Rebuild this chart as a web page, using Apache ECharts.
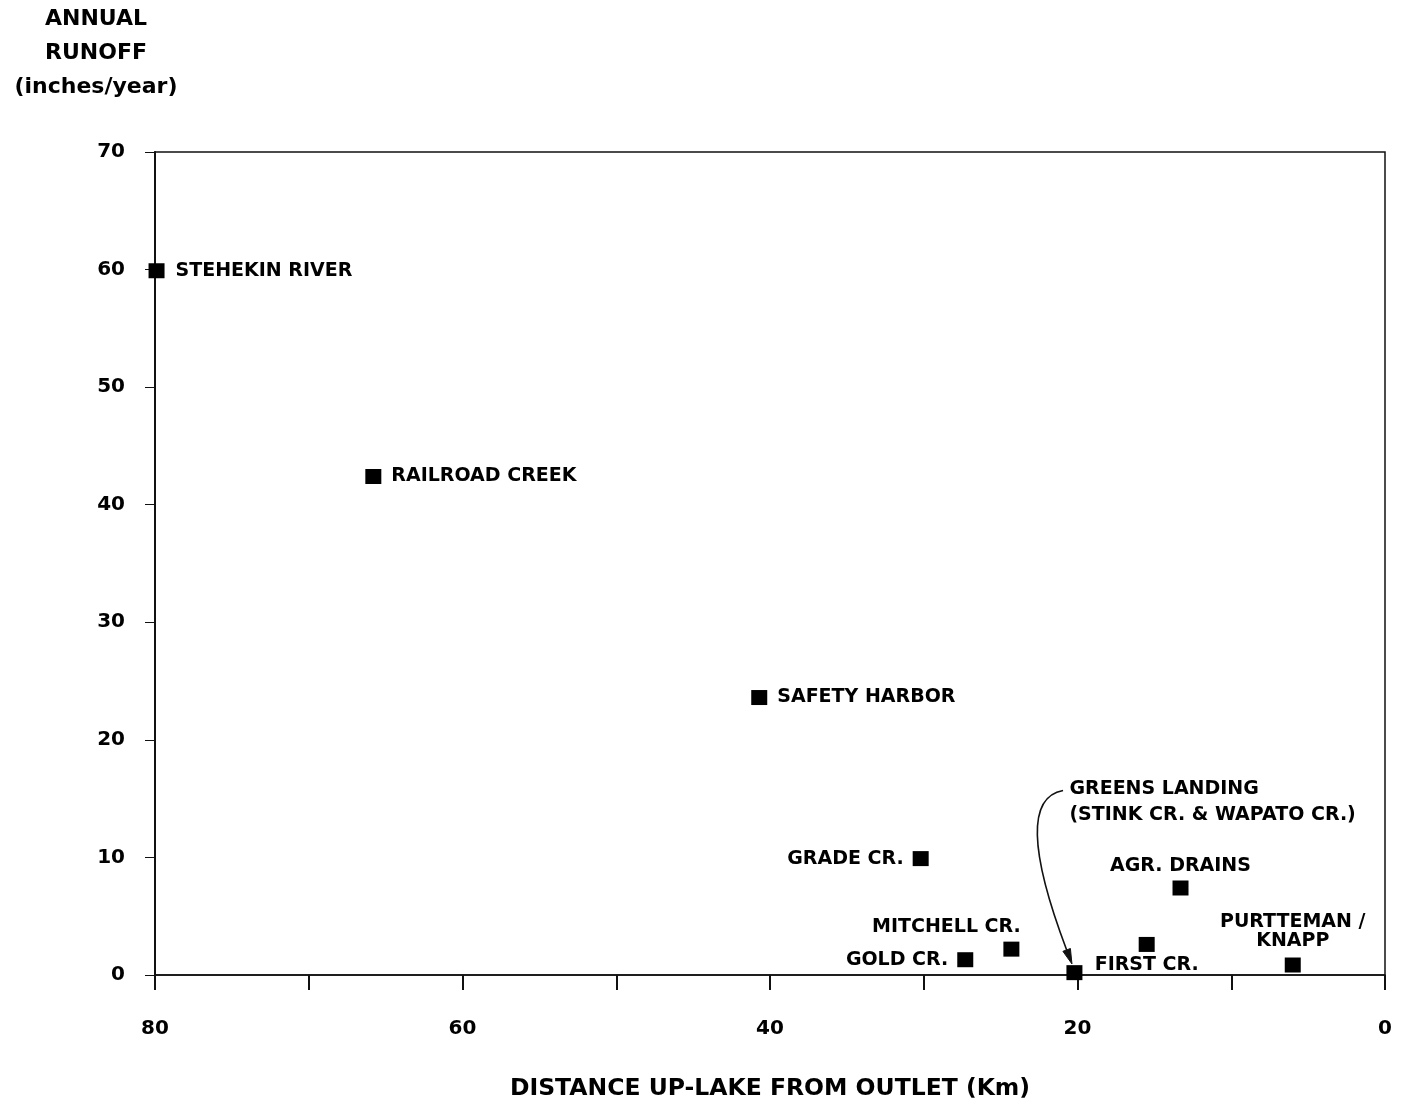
<!DOCTYPE html>
<html>
<head>
<meta charset="utf-8">
<script src="https://cdn.jsdelivr.net/npm/echarts@6/dist/echarts.min.js"></script>
<style>html,body{margin:0;padding:0;background:#fff;overflow:hidden;}#c{width:1403px;height:1106px;}</style>
</head>
<body>
<div id="c"></div>
<script>
// Data
var names = ['STEHEKIN RIVER', 'RAILROAD CREEK', 'SAFETY HARBOR', 'GRADE CR.', 'GOLD CR.', 'MITCHELL CR.', 'GREENS LANDING\n(STINK CR. & WAPATO CR.)', 'FIRST CR.', 'AGR. DRAINS', 'PURTTEMAN /\nKNAPP'];
var distanceKm = [79.9, 65.8, 40.7, 30.2, 27.3, 24.3, 20.2, 15.5, 13.3, 6.0];
var runoff = [59.9, 42.4, 23.6, 9.9, 1.3, 2.2, 0.2, 2.6, 7.4, 0.85];
var xTickLabels = ['0', '20', '40', '60', '80'];
// annotation arrow for Greens Landing: start, bend control, tip (km, inches/year)
var arrowStart = [20.94, 15.7];
var arrowBend = [24.4, 14.9];
var arrowTip = [20.36, 0.94];

// label placement (styling only)
var labelStyles = [
  {position: 'right', distance: 11},
  {position: 'right', distance: 10},
  {position: 'right', distance: 10},
  {position: 'left', distance: 9},
  {position: 'left', distance: 9},
  {position: 'top', distance: 5, offset: [-65, 0]},
  {position: [3, -189], align: 'left', verticalAlign: 'top', lineHeight: 26},
  {position: 'bottom', distance: 4},
  {position: 'top', distance: 5},
  {position: 'top', distance: 7, align: 'center', lineHeight: 19}
];

var FONT = '"DejaVu Sans", Verdana, sans-serif';
var pts = names.map(function (n, i) {
  var ls = labelStyles[i];
  var lab = {show: true, formatter: n, color: '#000', fontFamily: FONT, fontWeight: 'bold', fontSize: 19, opacity: 1};
  for (var k in ls) lab[k] = ls[k];
  return {name: n, value: [distanceKm[i], runoff[i]], label: lab};
});

function renderArrow(params, api) {
  var p0 = api.coord([api.value(0), api.value(1)]);
  var c = api.coord([api.value(2), api.value(3)]);
  var p2 = api.coord([api.value(4), api.value(5)]);
  var dx = p2[0] - c[0], dy = p2[1] - c[1];
  var len = Math.sqrt(dx * dx + dy * dy);
  dx /= len; dy /= len;
  var headLen = 15, headHalf = 4;
  var base = [p2[0] - dx * headLen, p2[1] - dy * headLen];
  return {
    type: 'group',
    children: [
      {
        type: 'bezierCurve',
        shape: {x1: p0[0], y1: p0[1], cpx1: c[0], cpy1: c[1], x2: base[0], y2: base[1]},
        style: {stroke: '#111', lineWidth: 1.6, fill: null}
      },
      {
        type: 'polygon',
        shape: {points: [p2, [base[0] - dy * headHalf, base[1] + dx * headHalf], [base[0] + dy * headHalf, base[1] - dx * headHalf]]},
        style: {fill: '#111', stroke: '#111', lineWidth: 1}
      }
    ]
  };
}

var chart = echarts.init(document.getElementById('c'), null, {renderer: 'canvas'});
chart.setOption({
  backgroundColor: '#fff',
  animation: false,
  title: {
    text: 'ANNUAL\nRUNOFF\n(inches/year)',
    left: 91, top: -3, textAlign: 'center',
    textStyle: {fontFamily: FONT, fontWeight: 'bold', fontSize: 22, color: '#000', lineHeight: 34}
  },
  grid: {left: 155, right: 18, top: 152, bottom: 131, show: true, borderColor: '#111', borderWidth: 1.5, containLabel: false, outerBoundsMode: 'none'},
  xAxis: {
    type: 'value', inverse: true, min: 0, max: 80, interval: 10,
    name: 'DISTANCE UP-LAKE FROM OUTLET (Km)', nameLocation: 'middle', nameGap: 102,
    nameTextStyle: {fontFamily: FONT, fontWeight: 'bold', fontSize: 23.5, color: '#000'},
    axisLine: {onZero: false, lineStyle: {color: '#111', width: 1.5}},
    axisTick: {show: true, inside: false, length: 15, lineStyle: {color: '#111', width: 2}},
    axisLabel: {
      margin: 44, fontFamily: FONT, fontWeight: 'bold', fontSize: 20, color: '#000',
      formatter: function (v) { var s = String(v); return xTickLabels.indexOf(s) >= 0 ? s : ''; }
    },
    splitLine: {show: false}
  },
  yAxis: {
    type: 'value', min: 0, max: 70, interval: 10,
    axisLine: {show: true, onZero: false, lineStyle: {color: '#111', width: 2}},
    axisTick: {show: true, inside: false, length: 10, lineStyle: {color: '#111', width: 1}},
    axisLabel: {margin: 30, fontFamily: FONT, fontWeight: 'bold', fontSize: 20, color: '#000'},
    splitLine: {show: false}
  },
  series: [
    {
      type: 'scatter',
      symbol: 'rect',
      symbolSize: [16, 15],
      itemStyle: {color: '#000', opacity: 1},
      data: pts,
      z: 3
    },
    {
      type: 'custom',
      renderItem: renderArrow,
      encode: {x: [0, 2, 4], y: [1, 3, 5]},
      data: [[arrowStart[0], arrowStart[1], arrowBend[0], arrowBend[1], arrowTip[0], arrowTip[1]]],
      silent: true,
      z: 2
    }
  ]
});
</script>
</body>
</html>
